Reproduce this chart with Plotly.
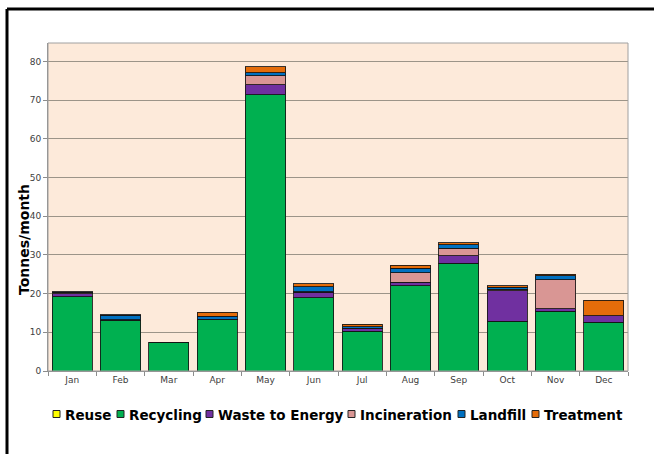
import plotly.graph_objects as go

# Monthly waste arisings by destination (tonnes)
months = ["Jan", "Feb", "Mar", "Apr", "May", "Jun",
          "Jul", "Aug", "Sep", "Oct", "Nov", "Dec"]

reuse = [0, 0, 0, 0, 0, 0, 0, 0, 0, 0, 0, 0]
recycling = [19.2, 13.1, 7.4, 13.3, 71.4, 19.0, 10.3, 22.1, 27.9, 12.8, 15.4, 12.6]
waste_to_energy = [0.8, 0.2, 0.0, 0.1, 2.6, 1.4, 0.7, 0.9, 1.9, 7.9, 0.7, 1.7]
incineration = [0.2, 0.0, 0.0, 0.0, 2.3, 0.1, 0.1, 2.4, 2.0, 0.5, 7.5, 0.0]
landfill = [0.2, 1.1, 0.0, 0.8, 0.8, 1.3, 0.3, 1.2, 0.9, 0.5, 1.0, 0.0]
treatment = [0.1, 0.2, 0.0, 1.0, 1.6, 0.8, 0.7, 0.7, 0.4, 0.4, 0.4, 4.0]

series = [
    ("Reuse", reuse, "#FFFF00"),
    ("Recycling", recycling, "#00B050"),
    ("Waste to Energy", waste_to_energy, "#7030A0"),
    ("Incineration", incineration, "#D99694"),
    ("Landfill", landfill, "#0070C0"),
    ("Treatment", treatment, "#E46C0A"),
]

# Left edge (page pixels) of each compact legend entry's swatch
legend_left = [53, 117, 206, 348, 458, 532]

W, H = 654, 454
L, R, T, B = 48, 26, 43, 83
pw = W - L - R
ph = H - T - B


def px(x):
    return (x - L) / pw


def py(y):
    return 1 - (y - T) / ph


fig = go.Figure()
for name, values, color in series:
    fig.add_trace(go.Bar(
        x=months, y=values, name=name, showlegend=False,
        marker=dict(color=color, line=dict(color="rgba(20,20,20,0.85)", width=1)),
    ))

shapes = [
    dict(type="rect", xref="paper", yref="paper", x0=0, x1=1, y0=0, y1=1,
         line=dict(color="#a0a0a0", width=1), fillcolor="rgba(0,0,0,0)", layer="above"),
]
# Outer frame: only its left and top edges fall inside the page
frame = dict(color="black", width=3)
shapes.append(dict(type="line", xref="paper", yref="paper",
                   x0=px(7), x1=px(7), y0=py(9), y1=py(500), line=frame))
shapes.append(dict(type="line", xref="paper", yref="paper",
                   x0=px(7), x1=px(700), y0=py(9), y1=py(9), line=frame))

annotations = []
for (name, _, color), x0 in zip(series, legend_left):
    shapes.append(dict(type="rect", xref="paper", yref="paper",
                       x0=px(x0), x1=px(x0 + 7), y0=py(417.5), y1=py(410.5),
                       fillcolor=color, line=dict(color="#222222", width=1)))
    annotations.append(dict(xref="paper", yref="paper", x=px(x0 + 10), y=py(414.5),
                            xanchor="left", yanchor="middle", showarrow=False,
                            text=name,
                            font=dict(family="DejaVu Sans", size=13.5, color="black",
                                      weight="bold")))

annotations.append(dict(xref="paper", yref="paper", x=px(24), y=py(240),
                        xanchor="center", yanchor="middle", showarrow=False,
                        textangle=-90, text="Tonnes/month",
                        font=dict(family="DejaVu Sans", size=14, color="black",
                                  weight="bold")))

fig.update_layout(
    width=W, height=H,
    margin=dict(l=L, r=R, t=T, b=B, pad=0, autoexpand=False),
    barmode="stack",
    bargap=0.17,
    paper_bgcolor="white",
    plot_bgcolor="#FDEADA",
    font=dict(family="DejaVu Sans", color="#404040"),
    showlegend=False,
    xaxis=dict(
        type="category",
        showgrid=False,
        showline=True, linecolor="#8c8c8c", linewidth=1,
        ticks="outside", ticklen=4, tickcolor="#8c8c8c",
        tickson="boundaries",
        tickfont=dict(size=9, color="#404040"),
    ),
    yaxis=dict(
        range=[0, 84.8],
        tickvals=[0, 10, 20, 30, 40, 50, 60, 70, 80],
        showgrid=True, gridcolor="#9c9488", gridwidth=1,
        showline=True, linecolor="#8c8c8c", linewidth=1,
        ticks="outside", ticklen=4, tickcolor="#8c8c8c",
        tickfont=dict(size=9, color="#404040"),
        zeroline=False,
    ),
    shapes=shapes,
    annotations=annotations,
)

fig.write_html("out.html")
